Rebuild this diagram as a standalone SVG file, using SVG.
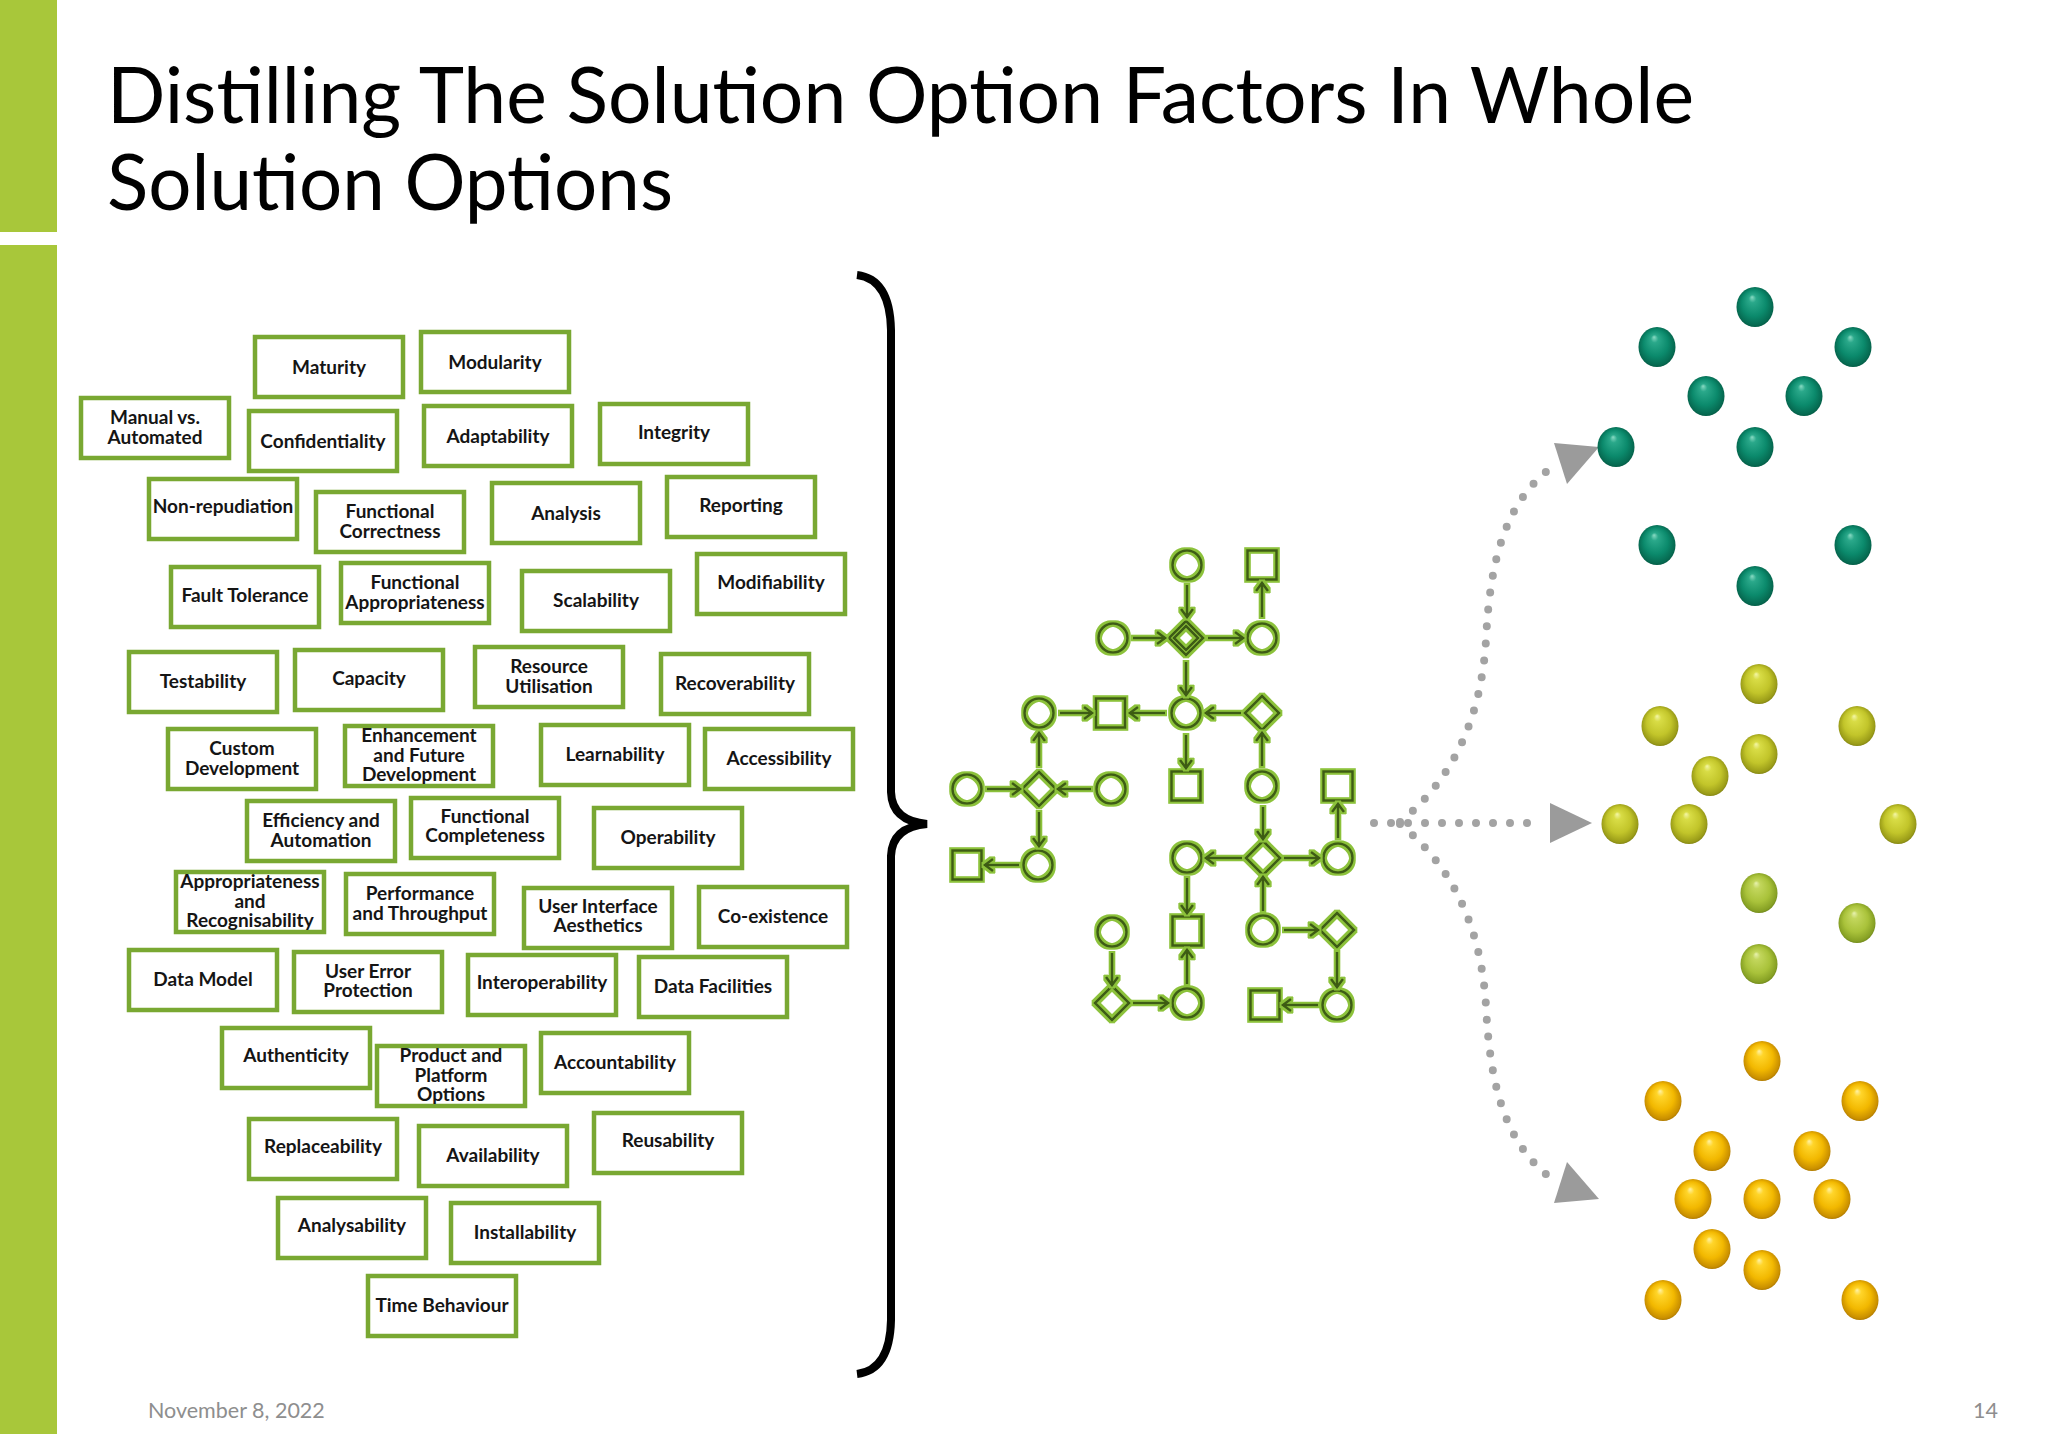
<svg xmlns="http://www.w3.org/2000/svg" xmlns:xlink="http://www.w3.org/1999/xlink" width="2048" height="1434" viewBox="0 0 2048 1434">
<style>
.box rect{fill:#fff;stroke:#79A832;stroke-width:4.5}
.box text{font-family:Lato,"Liberation Sans",sans-serif;font-weight:700;font-size:19px;fill:#151515;text-anchor:middle}
.title{font-family:Lato,"Liberation Sans",sans-serif;font-size:77px;fill:#000}
.foot{font-family:Lato,"Liberation Sans",sans-serif;font-size:21.5px;fill:#8E8E8E}
.fc{fill:none;stroke:#3E5C12;stroke-width:2.6}
.fa{fill:none;stroke:#3E5C12;stroke-width:2.6;marker-end:url(#chev)}
.dots{fill:none;stroke:#A3A3A3;stroke-width:8;stroke-linecap:round;stroke-dasharray:0 17}
.tri{fill:#9B9B9B}
.teal{fill:url(#gTeal)}
.yel{fill:url(#gYel)}
.lime{fill:url(#gLime)}
.gold{fill:url(#gGold)}
</style>
<defs>
<marker id="chev" markerUnits="userSpaceOnUse" markerWidth="14" markerHeight="16" refX="11" refY="7" orient="auto">
<path d="M3,1 L11,7 L3,13" fill="none" stroke="#3E5C12" stroke-width="2.6"/>
</marker>
<filter id="halo" x="-5%" y="-5%" width="110%" height="110%">
<feMorphology in="SourceAlpha" operator="dilate" radius="1.9" result="d"/>
<feFlood flood-color="#8CC23A"/>
<feComposite in2="d" operator="in" result="h"/>
<feMerge><feMergeNode in="h"/><feMergeNode in="SourceGraphic"/></feMerge>
</filter>
<radialGradient id="gTeal" cx="0.5" cy="0.5" r="0.55" fx="0.42" fy="0.25">
<stop offset="0" stop-color="#8ADBC4"/><stop offset="0.18" stop-color="#2AA88A"/><stop offset="0.6" stop-color="#0B8A6C"/><stop offset="0.88" stop-color="#066A51"/><stop offset="1" stop-color="#03503C"/>
</radialGradient>
<radialGradient id="gYel" cx="0.5" cy="0.5" r="0.55" fx="0.42" fy="0.25">
<stop offset="0" stop-color="#F4F6A8"/><stop offset="0.18" stop-color="#D8DC45"/><stop offset="0.6" stop-color="#C2C52A"/><stop offset="0.88" stop-color="#9A9C18"/><stop offset="1" stop-color="#6E700E"/>
</radialGradient>
<radialGradient id="gLime" cx="0.5" cy="0.5" r="0.55" fx="0.42" fy="0.25">
<stop offset="0" stop-color="#E8F2B0"/><stop offset="0.18" stop-color="#C2D65C"/><stop offset="0.6" stop-color="#A9C23A"/><stop offset="0.88" stop-color="#86A024"/><stop offset="1" stop-color="#5E7414"/>
</radialGradient>
<radialGradient id="gGold" cx="0.5" cy="0.5" r="0.55" fx="0.42" fy="0.25">
<stop offset="0" stop-color="#FFF2A8"/><stop offset="0.18" stop-color="#FFD52A"/><stop offset="0.6" stop-color="#F2B800"/><stop offset="0.88" stop-color="#C98F00"/><stop offset="1" stop-color="#946500"/>
</radialGradient>
</defs>
<rect width="2048" height="1434" fill="#fff"/>
<rect x="0" y="0" width="57" height="232" fill="#A8C73A"/>
<rect x="0" y="245" width="57" height="1189" fill="#A8C73A"/>
<text class="title" x="107" y="123" textLength="1587" lengthAdjust="spacingAndGlyphs">Distilling The Solution Option Factors In Whole</text>
<text class="title" x="107" y="210" textLength="566" lengthAdjust="spacingAndGlyphs">Solution Options</text>

<g id="factors">
<g class="box" id="n-maturity"><rect x="255" y="337" width="148" height="60"/><text x="329" y="373.5">Maturity</text></g>
<g class="box" id="n-modularity"><rect x="421" y="332" width="148" height="60"/><text x="495" y="368.5">Modularity</text></g>
<g class="box" id="n-manual"><rect x="81" y="398" width="148" height="60"/><text x="155" y="424">Manual vs.</text><text x="155" y="443.5">Automated</text></g>
<g class="box" id="n-confidentiality"><rect x="249" y="411" width="148" height="60"/><text x="323" y="447.5">Confidentiality</text></g>
<g class="box" id="n-adaptability"><rect x="424" y="406" width="148" height="60"/><text x="498" y="442.5">Adaptability</text></g>
<g class="box" id="n-integrity"><rect x="600" y="404" width="148" height="60"/><text x="674" y="438.5">Integrity</text></g>
<g class="box" id="n-nonrepudiation"><rect x="149" y="479" width="148" height="60"/><text x="223" y="513">Non-repudiation</text></g>
<g class="box" id="n-funccorrect"><rect x="316" y="492" width="148" height="60"/><text x="390" y="518">Functional</text><text x="390" y="537.5">Correctness</text></g>
<g class="box" id="n-analysis"><rect x="492" y="483" width="148" height="60"/><text x="566" y="519.5">Analysis</text></g>
<g class="box" id="n-reporting"><rect x="667" y="477" width="148" height="60"/><text x="741" y="511.5">Reporting</text></g>
<g class="box" id="n-faulttol"><rect x="171" y="567" width="148" height="60"/><text x="245" y="601.5">Fault Tolerance</text></g>
<g class="box" id="n-funcapprop"><rect x="341" y="563" width="148" height="60"/><text x="415" y="589">Functional</text><text x="415" y="608.5">Appropriateness</text></g>
<g class="box" id="n-scalability"><rect x="522" y="571" width="148" height="60"/><text x="596" y="606.5">Scalability</text></g>
<g class="box" id="n-modifiability"><rect x="697" y="554" width="148" height="60"/><text x="771" y="589">Modifiability</text></g>
<g class="box" id="n-testability"><rect x="129" y="652" width="148" height="60"/><text x="203" y="688">Testability</text></g>
<g class="box" id="n-capacity"><rect x="295" y="650" width="148" height="60"/><text x="369" y="685">Capacity</text></g>
<g class="box" id="n-resource"><rect x="475" y="647" width="148" height="60"/><text x="549" y="673">Resource</text><text x="549" y="692.5">Utilisation</text></g>
<g class="box" id="n-recoverability"><rect x="661" y="654" width="148" height="60"/><text x="735" y="689.5">Recoverability</text></g>
<g class="box" id="n-custom"><rect x="168" y="729" width="148" height="60"/><text x="242" y="755">Custom</text><text x="242" y="774.5">Development</text></g>
<g class="box" id="n-enhancement"><rect x="345" y="726" width="148" height="60"/><text x="419" y="742">Enhancement</text><text x="419" y="761.5">and Future</text><text x="419" y="781">Development</text></g>
<g class="box" id="n-learnability"><rect x="541" y="725" width="148" height="60"/><text x="615" y="760.5">Learnability</text></g>
<g class="box" id="n-accessibility"><rect x="705" y="729" width="148" height="60"/><text x="779" y="764.5">Accessibility</text></g>
<g class="box" id="n-efficiency"><rect x="247" y="801" width="148" height="60"/><text x="321" y="827">Efficiency and</text><text x="321" y="846.5">Automation</text></g>
<g class="box" id="n-funccomplete"><rect x="411" y="798" width="148" height="60"/><text x="485" y="822.5">Functional</text><text x="485" y="842">Completeness</text></g>
<g class="box" id="n-operability"><rect x="594" y="808" width="148" height="60"/><text x="668" y="843.5">Operability</text></g>
<g class="box" id="n-approprecog"><rect x="176" y="872" width="148" height="60"/><text x="250" y="888">Appropriateness</text><text x="250" y="907.5">and</text><text x="250" y="927">Recognisability</text></g>
<g class="box" id="n-performance"><rect x="346" y="874" width="148" height="60"/><text x="420" y="900">Performance</text><text x="420" y="919.5">and Throughput</text></g>
<g class="box" id="n-uiaesthetics"><rect x="524" y="888" width="148" height="60"/><text x="598" y="912.5">User Interface</text><text x="598" y="932">Aesthetics</text></g>
<g class="box" id="n-coexistence"><rect x="699" y="887" width="148" height="60"/><text x="773" y="922.5">Co-existence</text></g>
<g class="box" id="n-datamodel"><rect x="129" y="950" width="148" height="60"/><text x="203" y="985.5">Data Model</text></g>
<g class="box" id="n-usererror"><rect x="294" y="952" width="148" height="60"/><text x="368" y="977.5">User Error</text><text x="368" y="997">Protection</text></g>
<g class="box" id="n-interop"><rect x="468" y="955" width="148" height="60"/><text x="542" y="989">Interoperability</text></g>
<g class="box" id="n-datafac"><rect x="639" y="957" width="148" height="60"/><text x="713" y="992.5">Data Facilities</text></g>
<g class="box" id="n-authenticity"><rect x="222" y="1028" width="148" height="60"/><text x="296" y="1062">Authenticity</text></g>
<g class="box" id="n-product"><rect x="377" y="1046" width="148" height="60"/><text x="451" y="1062">Product and</text><text x="451" y="1081.5">Platform</text><text x="451" y="1101">Options</text></g>
<g class="box" id="n-accountability"><rect x="541" y="1033" width="148" height="60"/><text x="615" y="1068.5">Accountability</text></g>
<g class="box" id="n-replaceability"><rect x="249" y="1119" width="148" height="60"/><text x="323" y="1153">Replaceability</text></g>
<g class="box" id="n-availability"><rect x="419" y="1126" width="148" height="60"/><text x="493" y="1161.5">Availability</text></g>
<g class="box" id="n-reusability"><rect x="594" y="1113" width="148" height="60"/><text x="668" y="1147">Reusability</text></g>
<g class="box" id="n-analysability"><rect x="278" y="1198" width="148" height="60"/><text x="352" y="1232">Analysability</text></g>
<g class="box" id="n-installability"><rect x="451" y="1203" width="148" height="60"/><text x="525" y="1238.5">Installability</text></g>
<g class="box" id="n-timebehaviour"><rect x="368" y="1276" width="148" height="60"/><text x="442" y="1311.5">Time Behaviour</text></g>
</g>

<g id="brace"><path d="M857,275 Q890,279 891,330 L891,792 Q892,821 927,824 Q892,827 891,856 L891,1320 Q890,1370 857,1374" fill="none" stroke="#000" stroke-width="8"/></g>

<g id="flowchart" filter="url(#halo)">
<g id="f-c1"><circle class="fc" cx="1187" cy="565" r="14.5"/></g>
<g id="f-s1"><rect class="fc" x="1247.5" y="550.5" width="29" height="29"/></g>
<g id="f-c2"><circle class="fc" cx="1113" cy="638" r="14.5"/></g>
<g id="f-d1"><path class="fc" d="M1186,621 L1203,638 L1186,655 L1169,638 Z M1186,626 L1198,638 L1186,650 L1174,638 Z"/></g>
<g id="f-c3"><circle class="fc" cx="1262" cy="638" r="14.5"/></g>
<g id="f-c4"><circle class="fc" cx="1039" cy="713" r="14.5"/></g>
<g id="f-s2"><rect class="fc" x="1096" y="698.5" width="29" height="29"/></g>
<g id="f-c5"><circle class="fc" cx="1186" cy="713" r="14.5"/></g>
<g id="f-d2"><path class="fc" d="M1262,696 L1279,713 L1262,730 L1245,713 Z"/></g>
<g id="f-c6"><circle class="fc" cx="967" cy="789" r="14.5"/></g>
<g id="f-d3"><path class="fc" d="M1039,772 L1056,789 L1039,806 L1022,789 Z"/></g>
<g id="f-c7"><circle class="fc" cx="1111" cy="789" r="14.5"/></g>
<g id="f-s3"><rect class="fc" x="1171.5" y="771.5" width="29" height="29"/></g>
<g id="f-c8"><circle class="fc" cx="1262" cy="786" r="14.5"/></g>
<g id="f-s4"><rect class="fc" x="1323.5" y="771.5" width="29" height="29"/></g>
<g id="f-s5"><rect class="fc" x="952.5" y="850.5" width="29" height="29"/></g>
<g id="f-c9"><circle class="fc" cx="1038" cy="865" r="14.5"/></g>
<g id="f-c10"><circle class="fc" cx="1187" cy="858" r="14.5"/></g>
<g id="f-d4"><path class="fc" d="M1263,841 L1280,858 L1263,875 L1246,858 Z"/></g>
<g id="f-c11"><circle class="fc" cx="1338" cy="858" r="14.5"/></g>
<g id="f-c12"><circle class="fc" cx="1112" cy="932" r="14.5"/></g>
<g id="f-s6"><rect class="fc" x="1172.5" y="916.5" width="29" height="29"/></g>
<g id="f-c13"><circle class="fc" cx="1263" cy="930" r="14.5"/></g>
<g id="f-d5"><path class="fc" d="M1337,913 L1354,930 L1337,947 L1320,930 Z"/></g>
<g id="f-d6"><path class="fc" d="M1112,986 L1129,1003 L1112,1020 L1095,1003 Z"/></g>
<g id="f-c14"><circle class="fc" cx="1187" cy="1003" r="14.5"/></g>
<g id="f-s7"><rect class="fc" x="1250.5" y="990.5" width="29" height="29"/></g>
<g id="f-c15"><circle class="fc" cx="1337" cy="1005" r="14.5"/></g>
</g>

<g id="connectors">
<g filter="url(#halo)">
<path class="fa" d="M1187,585 L1187,617"/>
<path class="fa" d="M1262,617 L1262,583"/>
<path class="fa" d="M1133,638 L1165,638"/>
<path class="fa" d="M1208,638 L1243,638"/>
<path class="fa" d="M1186,662 L1186,695"/>
<path class="fa" d="M1060,713 L1092,713"/>
<path class="fa" d="M1165,713 L1130,713"/>
<path class="fa" d="M1241,713 L1206,713"/>
<path class="fa" d="M1186,735 L1186,768"/>
<path class="fa" d="M1262,766 L1262,733"/>
<path class="fa" d="M1039,766 L1039,733"/>
<path class="fa" d="M987,789 L1020,789"/>
<path class="fa" d="M1091,789 L1058,789"/>
<path class="fa" d="M1039,812 L1039,846"/>
<path class="fa" d="M1019,865 L985,865"/>
<path class="fa" d="M1263,807 L1263,839"/>
<path class="fa" d="M1242,858 L1206,858"/>
<path class="fa" d="M1284,858 L1319,858"/>
<path class="fa" d="M1338,838 L1338,804"/>
<path class="fa" d="M1263,911 L1263,877"/>
<path class="fa" d="M1187,878 L1187,913"/>
<path class="fa" d="M1284,930 L1318,930"/>
<path class="fa" d="M1337,952 L1337,987"/>
<path class="fa" d="M1318,1005 L1283,1005"/>
<path class="fa" d="M1112,953 L1112,985"/>
<path class="fa" d="M1133,1003 L1168,1003"/>
<path class="fa" d="M1187,984 L1187,950"/>
</g>
<g id="dotted">
<path class="dots" d="M1374,823 L1542,823"/>
<path class="dots" d="M1400,822 C1452,780 1481,720 1486,640 C1490,560 1505,498 1558,463"/>
<path class="dots" d="M1400,824 C1452,866 1481,926 1486,1006 C1490,1086 1505,1148 1558,1183"/>
<polygon class="tri" points="1550,803 1550,843 1592,823"/>
<polygon class="tri" points="1554,443 1567,484 1599,447"/>
<polygon class="tri" points="1554,1203 1567,1162 1599,1199"/>
</g>
</g>

<g id="spheres">
<g id="teal-group">
<ellipse class="teal" cx="1755" cy="307" rx="18.5" ry="20"/>
<ellipse class="teal" cx="1657" cy="347" rx="18.5" ry="20"/>
<ellipse class="teal" cx="1853" cy="347" rx="18.5" ry="20"/>
<ellipse class="teal" cx="1706" cy="396" rx="18.5" ry="20"/>
<ellipse class="teal" cx="1804" cy="396" rx="18.5" ry="20"/>
<ellipse class="teal" cx="1616" cy="447" rx="18.5" ry="20"/>
<ellipse class="teal" cx="1755" cy="447" rx="18.5" ry="20"/>
<ellipse class="teal" cx="1657" cy="545" rx="18.5" ry="20"/>
<ellipse class="teal" cx="1853" cy="545" rx="18.5" ry="20"/>
<ellipse class="teal" cx="1755" cy="586" rx="18.5" ry="20"/>
</g>
<g id="yellow-group">
<ellipse class="yel" cx="1759" cy="684" rx="18.5" ry="20"/>
<ellipse class="yel" cx="1660" cy="726" rx="18.5" ry="20"/>
<ellipse class="yel" cx="1857" cy="726" rx="18.5" ry="20"/>
<ellipse class="yel" cx="1759" cy="754" rx="18.5" ry="20"/>
<ellipse class="yel" cx="1710" cy="776" rx="18.5" ry="20"/>
<ellipse class="yel" cx="1620" cy="824" rx="18.5" ry="20"/>
<ellipse class="yel" cx="1689" cy="824" rx="18.5" ry="20"/>
<ellipse class="yel" cx="1898" cy="824" rx="18.5" ry="20"/>
<ellipse class="lime" cx="1759" cy="893" rx="18.5" ry="20"/>
<ellipse class="lime" cx="1857" cy="923" rx="18.5" ry="20"/>
<ellipse class="lime" cx="1759" cy="964" rx="18.5" ry="20"/>
</g>
<g id="gold-group">
<ellipse class="gold" cx="1762" cy="1061" rx="18.5" ry="20"/>
<ellipse class="gold" cx="1663" cy="1101" rx="18.5" ry="20"/>
<ellipse class="gold" cx="1860" cy="1101" rx="18.5" ry="20"/>
<ellipse class="gold" cx="1712" cy="1151" rx="18.5" ry="20"/>
<ellipse class="gold" cx="1812" cy="1151" rx="18.5" ry="20"/>
<ellipse class="gold" cx="1693" cy="1199" rx="18.5" ry="20"/>
<ellipse class="gold" cx="1762" cy="1199" rx="18.5" ry="20"/>
<ellipse class="gold" cx="1832" cy="1199" rx="18.5" ry="20"/>
<ellipse class="gold" cx="1712" cy="1249" rx="18.5" ry="20"/>
<ellipse class="gold" cx="1762" cy="1270" rx="18.5" ry="20"/>
<ellipse class="gold" cx="1663" cy="1300" rx="18.5" ry="20"/>
<ellipse class="gold" cx="1860" cy="1300" rx="18.5" ry="20"/>
</g>
</g>

<text class="foot" x="148" y="1418">November 8, 2022</text>
<text class="foot" x="1998" y="1418" text-anchor="end">14</text>
</svg>
